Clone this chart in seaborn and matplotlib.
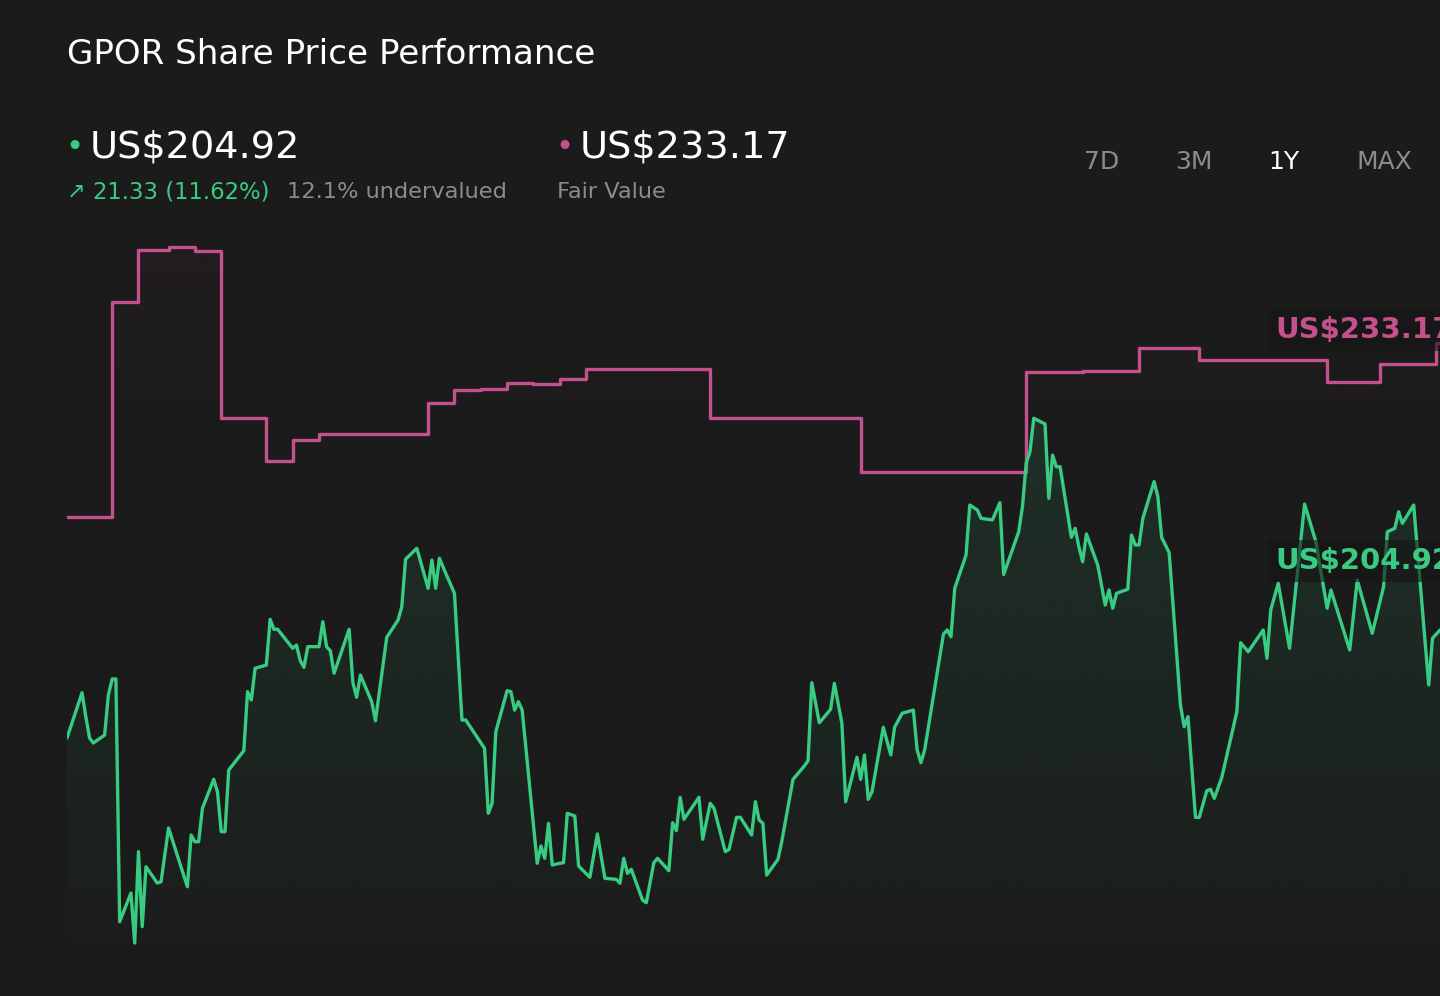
import numpy as np
import matplotlib.pyplot as plt
import seaborn as sns
from matplotlib.colors import LinearSegmentedColormap, to_rgb
from matplotlib.patches import PathPatch

# Share price (US$), days since start of the 1Y window
price_days = [0, 4, 5, 6, 7, 10, 11, 12, 13, 14, 17, 18, 19, 20, 21, 24, 25, 27, 32, 33,
              34, 35, 36, 39, 40, 41, 42, 43, 47, 48, 49, 50, 53, 54, 55, 56, 60, 61, 62, 63,
              64, 67, 68, 69, 70, 71, 75, 76, 77, 78, 81, 82, 85, 88, 89, 90, 93, 96, 97, 98,
              99, 100, 103, 105, 106, 111, 112, 113, 114, 117, 118, 119, 120, 121, 125, 126, 127, 128, 129, 131,
              132, 133, 135, 136, 139, 141, 143, 146, 147, 148, 149, 150, 153, 154, 156, 157, 160, 161, 162, 163,
              164, 168, 169, 171, 172, 175, 176, 178, 179, 182, 183, 184, 185, 186, 189, 190, 193, 196, 197, 198,
              200, 203, 204, 206, 207, 210, 211, 212, 213, 214, 217, 219, 220, 222, 225, 226, 227, 228, 233, 234,
              235, 236, 239, 240, 242, 243, 246, 248, 249, 253, 254, 255, 256, 257, 260, 261, 262, 263, 264, 267,
              268, 269, 270, 271, 274, 276, 277, 278, 279, 282, 283, 284, 285, 286, 289, 290, 291, 293, 296, 297,
              298, 300, 301, 303, 304, 305, 307, 311, 312, 314, 318, 319, 320, 322, 325, 329, 332, 335, 336, 341,
              343, 347, 350, 351, 353, 354, 355, 358, 362, 363, 365]
price = [194.29, 198.75, 196.39, 194.29, 193.80, 194.58, 198.52, 200.10, 200.10, 176.21, 179.03, 174.11, 183.10, 175.72, 181.62, 180.02, 180.14, 185.43, 179.65, 184.74,
         184.08, 184.08, 187.37, 190.22, 189.00, 185.07, 185.07, 191.14, 193.04, 198.85, 198.03, 201.15, 201.47, 205.97, 204.99, 204.99, 203.12, 203.44, 201.90, 201.25,
         203.28, 203.28, 205.74, 203.28, 202.88, 200.66, 204.99, 199.73, 198.30, 200.49, 197.86, 195.99, 204.20, 205.90, 207.21, 211.88, 212.96, 209.02, 211.81, 209.02,
         211.98, 211.09, 208.53, 196.06, 196.06, 193.27, 186.88, 187.86, 194.91, 198.94, 198.85, 197.04, 197.86, 197.04, 181.96, 183.66, 182.45, 185.89, 181.79, 181.96,
         182.01, 186.88, 186.61, 181.69, 180.58, 184.84, 180.48, 180.38, 179.99, 182.45, 180.97, 181.37, 178.34, 178.08, 182.01, 182.45, 181.23, 185.95, 185.17, 188.45,
         186.29, 188.45, 184.32, 187.86, 187.37, 183.10, 183.33, 186.48, 186.48, 184.74, 188.02, 186.22, 185.89, 180.80, 182.35, 184.08, 190.22, 191.53, 192.05, 199.73,
         195.79, 197.11, 199.67, 195.74, 188.02, 192.39, 190.22, 192.62, 188.25, 189.00, 195.34, 192.62, 195.34, 196.72, 197.04, 193.11, 191.86, 193.11, 204.52, 204.92,
         204.26, 209.02, 212.30, 217.22, 216.73, 215.91, 215.75, 217.45, 210.38, 214.59, 217.06, 221.36, 222.47, 225.76, 225.20, 217.88, 222.14, 220.99, 220.99, 214.04,
         214.93, 213.12, 211.64, 214.37, 211.32, 207.38, 208.86, 207.06, 208.53, 208.93, 214.27, 213.29, 213.29, 215.91, 219.52, 218.04, 214.04, 212.53, 197.54, 195.40,
         196.39, 186.48, 186.48, 189.10, 189.24, 188.35, 190.42, 196.88, 203.67, 202.78, 204.92, 202.13, 206.89, 209.52, 203.12, 217.32, 213.61, 207.06, 208.86, 202.95,
         209.84, 204.59, 209.18, 214.59, 214.93, 216.56, 215.42, 217.22, 199.51, 204.10, 204.92]

# Fair value estimate (US$), updated weekly
fair_days = [0, 12, 19, 27, 34, 41, 53, 60, 67, 96, 103, 110, 117, 124, 131, 138,
             171, 211, 255, 270, 285, 301, 335, 349, 364, 365]
fair_value = [216.07, 237.23, 242.32, 242.59, 242.25, 225.76, 221.58, 223.62, 224.21, 227.23,
              228.54, 228.64, 229.26, 229.13, 229.60, 230.58, 225.76, 220.50, 230.28, 230.41,
              232.71, 231.50, 229.36, 231.10, 233.17, 233.17]

ranges = ["7D", "3M", "1Y", "MAX"]

BG = "#1b1b1b"
GREEN = "#38cc82"
PINK = "#c4508e"
GREY = "#8c8c8c"

sns.set_theme(style="dark", rc={"figure.facecolor": BG, "axes.facecolor": BG})
plt.rcParams["font.family"] = ["DejaVu Sans"]

fig = plt.figure(figsize=(14.4, 9.96), dpi=100)
ax = fig.add_axes([67 / 1440, 1 - 960 / 996, 1 - 67 / 1440, 730 / 996])
ybot, ytop = 172.44, 244.29
ax.set_xlim(0, 365)
ax.set_ylim(ybot, ytop)


def gradient_fill(x, y, color, alpha_top, power, step=None):
    # area under a line, fading to transparent towards the bottom
    poly = ax.fill_between(x, y, ybot, color="none", lw=0, step=step)
    r, g, b = to_rgb(color)
    cmap = LinearSegmentedColormap.from_list("fade", [(r, g, b, 0), (r, g, b, 1)])
    grad = (alpha_top * np.linspace(0, 1, 512) ** power).reshape(-1, 1)
    im = ax.imshow(grad, extent=[0, 365, ybot, ytop], origin="lower", aspect="auto",
                   cmap=cmap, vmin=0, vmax=1, zorder=1, interpolation="bilinear")
    clip = PathPatch(poly.get_paths()[0], transform=ax.transData, facecolor="none", edgecolor="none")
    ax.add_patch(clip)
    im.set_clip_path(clip)


gradient_fill(fair_days, fair_value, PINK, 0.045, 4, step="post")
gradient_fill(price_days, price, GREEN, 0.15, 0.8)

sns.lineplot(x=fair_days, y=fair_value, ax=ax, color=PINK, lw=2.4, drawstyle="steps-post", zorder=3)
sns.lineplot(x=price_days, y=price, ax=ax, color=GREEN, lw=2.4, zorder=4)
ax.set_axis_off()

# End-of-line value tags (run off the right edge like the original)
box = dict(boxstyle="square,pad=0.25", facecolor="#151515", edgecolor="none", alpha=0.6)
fig.text(1275 / 1440, 1 - 330 / 996, f"US${fair_value[-1]:.2f}", color=PINK, fontsize=21,
         fontweight="bold", va="center", ha="left", bbox=box)
fig.text(1275 / 1440, 1 - 561 / 996, f"US${price[-1]:.2f}", color=GREEN, fontsize=21,
         fontweight="bold", va="center", ha="left", bbox=box)

# Header
fig.text(67 / 1440, 1 - 54 / 996, "GPOR Share Price Performance", color="white", fontsize=24.6, va="center")
fig.text(65 / 1440, 1 - 147 / 996, "•", color=GREEN, fontsize=22, va="center")
fig.text(90 / 1440, 1 - 147 / 996, "US$204.92", color="white", fontsize=27.5, va="center")
fig.text(555 / 1440, 1 - 147 / 996, "•", color=PINK, fontsize=22, va="center")
fig.text(580 / 1440, 1 - 147 / 996, "US$233.17", color="white", fontsize=27.5, va="center")
fig.text(67 / 1440, 1 - 192 / 996, "↗", color=GREEN, fontsize=16, va="center")
fig.text(93 / 1440, 1 - 192 / 996, "21.33 (11.62%)", color=GREEN, fontsize=16.4, va="center")
fig.text(287 / 1440, 1 - 192 / 996, "12.1% undervalued", color=GREY, fontsize=16.2, va="center")
fig.text(557 / 1440, 1 - 192 / 996, "Fair Value", color=GREY, fontsize=16.2, va="center")

for label, xc in zip(ranges, [1102, 1194, 1284, 1384]):
    fig.text(xc / 1440, 1 - 162 / 996, label, color="white" if label == "1Y" else GREY,
             fontsize=18, va="center", ha="center")

fig.savefig("out.png", dpi=100, facecolor=BG)
